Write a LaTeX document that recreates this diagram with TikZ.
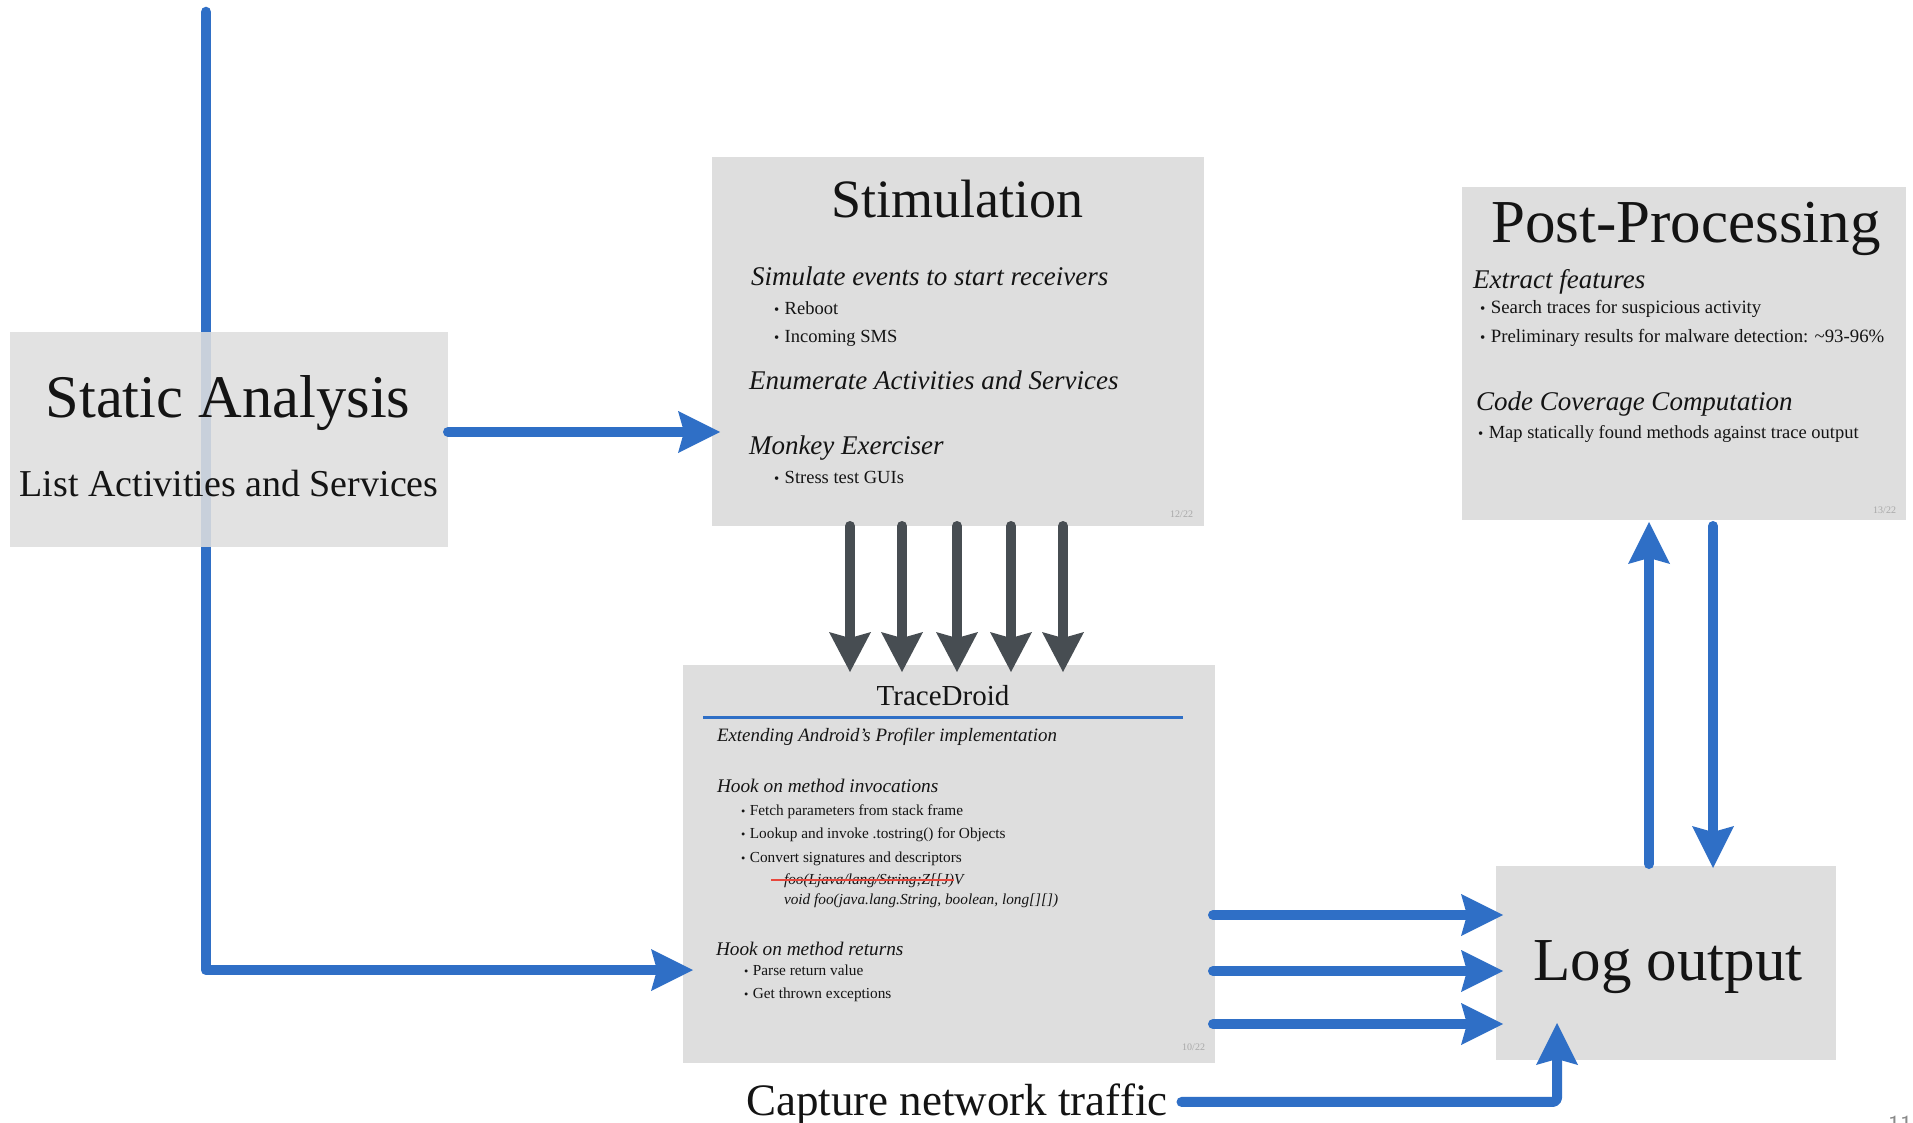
\documentclass[tikz,border=0pt]{standalone}
\usepackage{fontspec}
\setmainfont{Liberation Serif}
\usetikzlibrary{arrows.meta,calc}
\definecolor{boxgray}{HTML}{DEDEDE}
\definecolor{flowblue}{HTML}{2F6FC6}
\definecolor{slate}{HTML}{474D52}
\definecolor{pagegray}{HTML}{A8A8A8}
\definecolor{cornergray}{HTML}{8A8A8A}
\definecolor{ink}{HTML}{141414}
\definecolor{strike}{HTML}{E8473C}
\newcommand\fsz[1]{\fontsize{#1}{#1}\selectfont}
\newcommand\bul{{\scalebox{0.8}{•}}\hspace{0.3em}}
\begin{document}
\begin{tikzpicture}[x=1pt,y=-1pt,
  panel/.style={fill=boxgray, draw=none, inner sep=0, outer sep=0},
  ghost/.style={draw=none, inner sep=0, outer sep=0},
  txt/.style={inner sep=0, outer sep=0, anchor=base west, text=ink},
  ctxt/.style={inner sep=0, outer sep=0, anchor=base, text=ink},
  pnum/.style={inner sep=0, outer sep=0, anchor=base east, text=pagegray, font=\fsz{10}},
  bluearrow/.style={draw=flowblue, line width=10pt, line cap=round, line join=round,
    -{Stealth[length=42pt,width=42pt,inset=6pt,line width=0pt]}},
  grayarrow/.style={draw=slate, line width=10pt, line cap=round,
    -{Stealth[length=40pt,width=42pt,inset=6pt,line width=0pt]}},
]
\fill[white] (0,0) rectangle (1913,1123);
\useasboundingbox (0,0) rectangle (1913,1123);

% boxes
\node[panel, minimum width=492pt, minimum height=369pt] (stim) at (958,341.5) {};
\node[panel, minimum width=532pt, minimum height=398pt] (trace) at (949,864) {};
\node[panel, minimum width=444pt, minimum height=333pt] (post) at (1684,353.5) {};
\node[panel, minimum width=340pt, minimum height=194pt] (log) at (1666,963) {};
\node[ghost, minimum width=438pt, minimum height=215pt] (sa) at (229,439.5) {};

% long connector behind the static analysis box
\coordinate (top) at (206,12);
\coordinate (inTrace) at (693,970);
\draw[bluearrow, line width=10.5pt] (top) |- (inTrace);
\fill[boxgray, fill opacity=0.88] (sa.south west) rectangle (sa.north east);

% Static Analysis
\node[ctxt, font=\fsz{60.5}] (saT) at (228,417) {Static Analysis};
\node[ctxt, font=\fsz{38}] (saS) at (229,496) {List Activities and Services};

% Stimulation
\node[ctxt, font=\fsz{54}] (stT) at (957,218) {Stimulation};
\node[txt, font=\fsz{27}\itshape] (st1) at (751,285) {Simulate events to start receivers};
\node[txt, font=\fsz{18.5}] (st1a) at (774,314) {\bul Reboot};
\node[txt, font=\fsz{18.5}] (st1b) at (774,342) {\bul Incoming SMS};
\node[txt, font=\fsz{27}\itshape] (st2) at (749,389) {Enumerate Activities and Services};
\node[txt, font=\fsz{27}\itshape] (st3) at (749,454) {Monkey Exerciser};
\node[txt, font=\fsz{18.5}] (st3a) at (774,483) {\bul Stress test GUIs};
\node[pnum] (stN) at (1193,517) {12/22};

% TraceDroid
\node[ctxt, font=\fsz{29}] (trT) at (943,705) {TraceDroid};
\draw[flowblue, line width=3pt] (703,717) -- (1183,717);
\node[txt, font=\fsz{18.9}\itshape] (tr1) at (717,741) {Extending Android's Profiler implementation};
\node[txt, font=\fsz{19.3}\itshape] (tr2) at (717,792) {Hook on method invocations};
\node[txt, font=\fsz{15.3}] (tr2a) at (741,815) {\bul Fetch parameters from stack frame};
\node[txt, font=\fsz{15.3}] (tr2b) at (741,838) {\bul Lookup and invoke .tostring() for Objects};
\node[txt, font=\fsz{15.3}] (tr2c) at (741,862) {\bul Convert signatures and descriptors};
\node[txt, font=\fsz{15.3}\itshape] (tr2d) at (784,884) {foo(Ljava/lang/String;Z[[J)V};
\draw[strike, line width=1.6pt] (771,880) -- (954,880);
\node[txt, font=\fsz{15.3}\itshape] (tr2e) at (784,904) {void foo(java.lang.String, boolean, long[][])};
\node[txt, font=\fsz{19.3}\itshape] (tr3) at (716,955) {Hook on method returns};
\node[txt, font=\fsz{15.3}] (tr3a) at (744,975) {\bul Parse return value};
\node[txt, font=\fsz{15.3}] (tr3b) at (744,998) {\bul Get thrown exceptions};
\node[pnum] (trN) at (1205,1050) {10/22};

% Post-Processing
\node[ctxt, font=\fsz{61}] (ppT) at (1686,243) {Post-Processing};
\node[txt, font=\fsz{27}\itshape] (pp1) at (1473,288) {Extract features};
\node[txt, font=\fsz{18.8}] (pp1a) at (1480,313) {\bul Search traces for suspicious activity};
\node[txt, font=\fsz{18.8}] (pp1b) at (1480,342) {\bul Preliminary results for malware detection: \textasciitilde93-96\%};
\node[txt, font=\fsz{27}\itshape] (pp2) at (1476,410) {Code Coverage Computation};
\node[txt, font=\fsz{18.5}] (pp2a) at (1478,438) {\bul Map statically found methods against trace output};
\node[pnum] (ppN) at (1896,513) {13/22};

% Log output
\node[ctxt, font=\fsz{61}] (logT) at (1668,980) {Log output};

% Capture network traffic
\node[txt, font=\fsz{45}] (cap) at (746,1115) {Capture network traffic};

% cut-off page number at the corner
\node[txt, text=cornergray, font=\fsz{26}\sffamily] (pg) at (1888,1133) {11};

% connectors
\coordinate (toStim) at (720,432);
\draw[bluearrow] (sa.east |- toStim) -- (toStim);

\foreach \i/\x in {1/850,2/902,3/957,4/1011,5/1063}{
  \coordinate (g\i) at (\x,672);
  \draw[grayarrow] (stim.south -| g\i) -- (g\i);
}

\coordinate (lo1) at (1503,915);
\coordinate (lo2) at (1503,971);
\coordinate (lo3) at (1503,1024);
\draw[bluearrow] ([xshift=-2pt]trace.east |- lo1) -- (lo1);
\draw[bluearrow] ([xshift=-2pt]trace.east |- lo2) -- (lo2);
\draw[bluearrow] ([xshift=-2pt]trace.east |- lo3) -- (lo3);

\coordinate (up) at (1649,522);
\coordinate (down) at (1713,868);
\draw[bluearrow] ([yshift=2pt]log.north -| up) -- (up);
\draw[bluearrow] ([yshift=-6pt]post.south -| down) -- (down);

\coordinate (capIn) at (1557,1023);
\draw[bluearrow, rounded corners=4pt] ([xshift=14pt,yshift=2pt]cap.east) -| (capIn);
\end{tikzpicture}
\end{document}
